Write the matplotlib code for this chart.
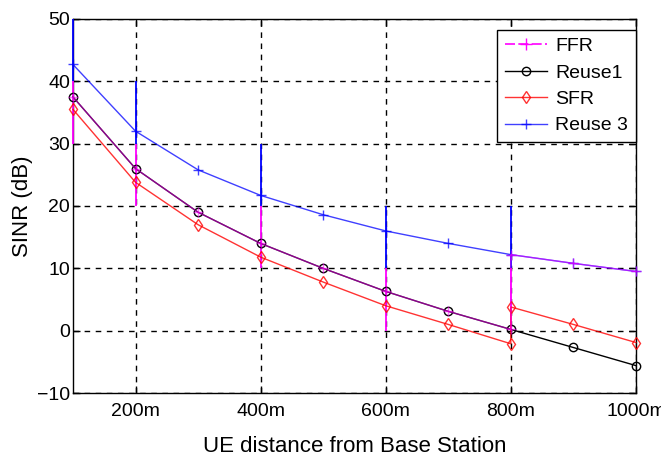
import matplotlib
matplotlib.use("Agg")
import matplotlib.pyplot as plt

plt.rcParams['font.family'] = ['Liberation Sans', 'DejaVu Sans']

# distances (m)
dist = [100, 200, 300, 400, 500, 600, 700, 800, 900, 1000]

# SINR values (dB)
reuse1 = [37.5, 26.0, 19.0, 14.0, 10.0, 6.3, 3.1, 0.2, -2.7, -5.6]
reuse3 = [42.7, 32.0, 25.8, 21.7, 18.6, 16.0, 14.0, 12.2, 10.8, 9.5]

# SFR: inner part up to 800m, then jump at 800m
sfr_x = [100, 200, 300, 400, 500, 600, 700, 800, 800, 900, 1000]
sfr_y = [35.5, 23.8, 17.0, 11.8, 7.8, 4.0, 1.0, -2.1, 3.8, 1.0, -1.9]

# FFR: follows reuse1 up to 800m, then reuse3
ffr_x = [100, 200, 300, 400, 500, 600, 700, 800, 800, 900, 1000]
ffr_y = [37.5, 26.0, 19.0, 14.0, 10.0, 6.3, 3.1, 0.2, 12.2, 10.8, 9.5]

# vertical bars
bar_x = [100, 200, 400, 600, 800]
blue_top = [50, 40, 30, 20, 20]
blue_bot = [40, 30, 20, 10, 10]
mag_bot = [30, 20, 10, 0, 0]

xticks = [200, 400, 600, 800, 1000]
xlabels = ['200m', '400m', '600m', '800m', '1000m']

fig = plt.figure(figsize=(6.61, 4.61), dpi=100)
ax = fig.add_axes([0.1104, 0.1475, 0.8516, 0.8113])

# grid
ax.set_axisbelow(True)
ax.grid(True, color='black', linestyle=(0, (4, 4)), linewidth=1.0)

# vertical bars
ax.vlines(bar_x, blue_bot, mag_bot, colors='magenta', linewidth=1.3,
          zorder=2.5, clip_on=False)
ax.vlines(bar_x, blue_top, blue_bot, colors='blue', linewidth=1.3,
          zorder=2.5, clip_on=False)

l_r1, = ax.plot(dist, reuse1, color='black', linewidth=1.0, marker='o',
                markersize=6, markerfacecolor='none', label='Reuse1',
                zorder=3, clip_on=False)
l_ffr, = ax.plot(ffr_x, ffr_y, color='magenta', linewidth=1.0, marker='+',
                 markersize=7, alpha=0.55, label='FFR', zorder=4, clip_on=False)
l_sfr, = ax.plot(sfr_x, sfr_y, color='red', linewidth=1.0, marker='d',
                 markersize=6, markerfacecolor='none', alpha=0.8, label='SFR',
                 zorder=3, clip_on=False)
l_r3, = ax.plot(dist, reuse3, color='blue', linewidth=1.0, marker='+',
                markersize=7, alpha=0.75, label='Reuse 3', zorder=3, clip_on=False)

ax.set_xlim(100, 1000)
ax.set_ylim(-10, 50)
ax.set_xticks(xticks)
ax.set_xticklabels(xlabels)
ax.set_yticks(range(-10, 51, 10))
ax.tick_params(direction='in', length=5, width=1, top=True, right=True,
               labelsize=14)
ax.tick_params(axis='x', pad=7)
ax.tick_params(axis='y', pad=2)
for s in ax.spines.values():
    s.set_linewidth(1.0)
    s.set_zorder(2)

ax.set_xlabel('UE distance from Base Station', fontsize=16, labelpad=12)
ax.set_ylabel('SINR (dB)', fontsize=16, labelpad=3)

ffr_h = plt.Line2D([], [], color='magenta', marker='+', markersize=8,
                   linestyle=(0, (6, 2)), linewidth=1.2)
leg = ax.legend([ffr_h, l_r1, l_sfr, l_r3], ['FFR', 'Reuse1', 'SFR', 'Reuse 3'],
                loc='upper right', bbox_to_anchor=(1.0, 0.971), fontsize=14,
                fancybox=False, framealpha=1, edgecolor='black',
                borderpad=0.4, labelspacing=0.45, handlelength=2.2,
                handletextpad=0.4, borderaxespad=0)
leg.get_frame().set_linewidth(1.0)
leg.set_zorder(5)

fig.savefig('out.png', dpi=100)
